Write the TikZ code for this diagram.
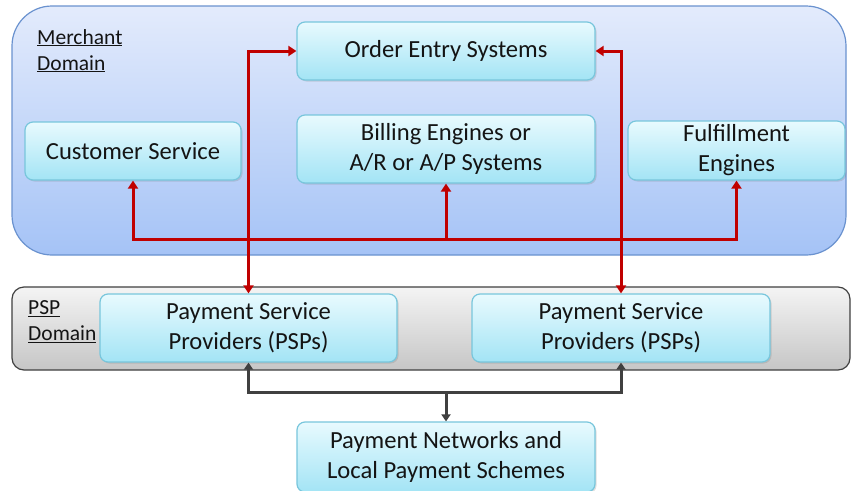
\documentclass[tikz,border=0pt]{standalone}
\usepackage{fontspec}
\setmainfont{Carlito}
\usetikzlibrary{arrows.meta,shadows}
\definecolor{domainTop}{HTML}{E3EBFC}
\definecolor{domainBot}{HTML}{A5C3F6}
\definecolor{domainLine}{HTML}{6A92CF}
\definecolor{pspTop}{HTML}{F4F4F4}
\definecolor{pspBot}{HTML}{C6C6C6}
\definecolor{pspLine}{HTML}{404040}
\definecolor{boxTop}{HTML}{E8FAFE}
\definecolor{boxBot}{HTML}{A3E4F5}
\definecolor{boxLine}{HTML}{78C6DC}
\definecolor{flowRed}{HTML}{C00000}
\definecolor{flowGray}{HTML}{404040}
\definecolor{txt}{HTML}{141414}
\tikzset{
  sysbox/.style={rounded corners=8pt, draw=boxLine, line width=1.2pt,
    top color=boxTop, bottom color=boxBot, align=center, text=txt,
    font=\fontsize{24.6}{30}\selectfont, inner sep=0pt,
    drop shadow={shadow xshift=1.5pt, shadow yshift=-1.5pt, opacity=0.25}},
  domlabel/.style={align=left, anchor=north west, text=txt, inner sep=0pt,
    font=\fontsize{21.5}{26}\selectfont},
  redflow/.style={draw=flowRed, line width=3pt,
    arrows={-Triangle[width=10pt,length=8pt]}},
  grayflow/.style={draw=flowGray, line width=3pt,
    arrows={-Triangle[width=9pt,length=7pt]}},
}
\begin{document}
\begin{tikzpicture}[x=1pt,y=-1pt]
\useasboundingbox (0,0) rectangle (856,490);
\clip (0,0) rectangle (856,490);
\fill[white] (0,0) rectangle (856,490);

% domains
\path[rounded corners=40pt, draw=domainLine, line width=1.2pt,
  top color=domainTop, bottom color=domainBot] (12,6) rectangle (846,255);
\path[rounded corners=12pt, draw=pspLine, line width=1.2pt,
  top color=pspTop, bottom color=pspBot] (12,287) rectangle (850,370);
\node[domlabel] (mlabel) at (37,29) {\underline{Merchant}\\\underline{Domain}};
\node[domlabel] (plabel) at (28,300) {\underline{PSP}\\\underline{Domain}};

% systems
\node[sysbox, minimum width=298pt, minimum height=58pt] (oes) at (446,51) {\raisebox{-2pt}{Order Entry Systems}};
\node[sysbox, minimum width=216pt, minimum height=58pt] (cs) at (133,151) {\raisebox{-2pt}{Customer Service}};
\node[sysbox, minimum width=298pt, minimum height=68pt] (bill) at (446,149) {Billing Engines or\\A/R or A/P Systems};
\node[sysbox, minimum width=217pt, minimum height=59pt] (ful) at (736.5,150.5) {Fulfillment\\Engines};
\node[sysbox, minimum width=297pt, minimum height=68pt] (pspl) at (248.5,328) {Payment Service\\Providers (PSPs)};
\node[sysbox, minimum width=298pt, minimum height=68pt] (pspr) at (621,328) {Payment Service\\Providers (PSPs)};
\node[sysbox, minimum width=298pt, minimum height=70pt] (pn) at (446,457) {Payment Networks and\\Local Payment Schemes};

% junction points
\coordinate (rbus) at (446,239);
\coordinate (gbus) at (446,392);

% merchant flows
\draw[redflow, arrows={Triangle[width=10pt,length=8pt]-Triangle[width=10pt,length=8pt]}]
  (cs.south) -- (cs.south |- rbus) -- (ful.south |- rbus) -- (ful.south);
\draw[redflow] (rbus) -- (bill.south);
\draw[redflow, arrows={Triangle[width=10pt,length=8pt]-Triangle[width=10pt,length=8pt]}]
  (pspl.north) |- (oes.west);
\draw[redflow, arrows={Triangle[width=10pt,length=8pt]-Triangle[width=10pt,length=8pt]}]
  (pspr.north) |- (oes.east);

% PSP flows
\draw[grayflow, arrows={Triangle[width=9pt,length=7pt]-Triangle[width=9pt,length=7pt]}]
  (pspl.south) |- (gbus) -| (pspr.south);
\draw[grayflow] (gbus) -- (pn.north);
\end{tikzpicture}
\end{document}
